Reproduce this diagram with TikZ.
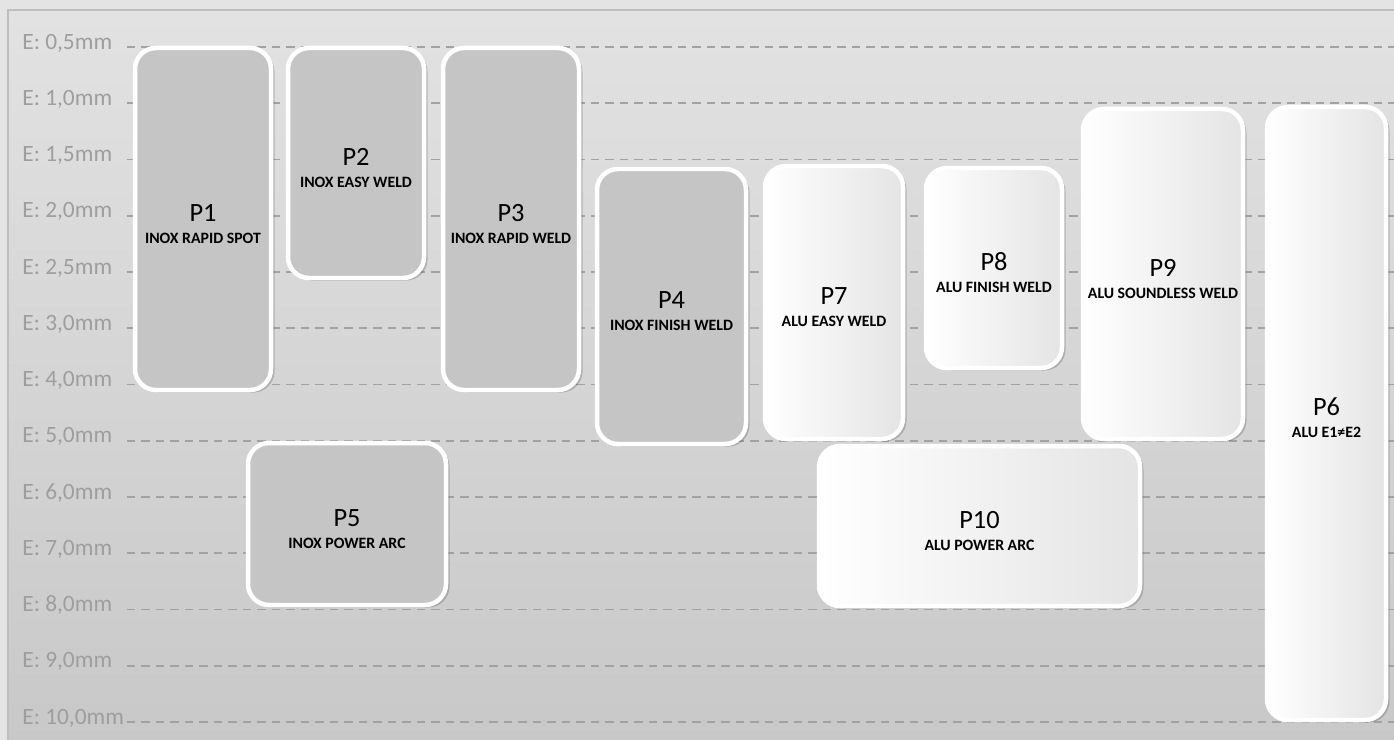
\documentclass[tikz,border=0pt]{standalone}
\usepackage{fontspec}
\setmainfont{Carlito}
\usetikzlibrary{shadows}

\definecolor{pagegrey}{HTML}{E4E4E4}
\definecolor{toptone}{HTML}{E2E2E2}
\definecolor{bottomtone}{HTML}{C8C8C8}
\definecolor{framegrey}{HTML}{BEBEBE}
\definecolor{dashgrey}{HTML}{A2A2A2}
\definecolor{labelgrey}{HTML}{9E9E9E}
\definecolor{inoxgrey}{HTML}{C5C5C5}
\definecolor{aluedge}{HTML}{E4E4E4}

\newcommand{\plabel}[2]{{\fontsize{15}{17}\selectfont\rule{0pt}{15pt}#1}\\[0.5pt]{\fontsize{9}{10}\selectfont\bfseries #2}}

\begin{document}
\begin{tikzpicture}[x=0.02cm, y=-0.02cm,
    pbox/.style={draw=white, line width=0.09cm, rounded corners=0.42cm,
      align=center, inner sep=0pt, text=black,
      drop shadow={shadow xshift=0.07cm, shadow yshift=-0.05cm, opacity=0.28, fill=black!70}},
    inox/.style={pbox, fill=inoxgrey},
    alu/.style={pbox, left color=white, middle color=white, right color=aluedge},
    level/.style={text=labelgrey, anchor=west, inner sep=0pt,
      font=\fontsize{13.3}{15}\selectfont},
    gridline/.style={dashgrey, line width=0.035cm, dash pattern=on 0.17cm off 0.12cm}]
  \def\px{0.02cm}

  % background and frame
  \useasboundingbox (0,0) rectangle (1394,740);
  \fill[pagegrey] (0,0) rectangle (1394,740);
  \shade[top color=toptone, bottom color=bottomtone, draw=framegrey, line width=0.03cm]
    (8,10) rectangle (1400,745);

  % thickness levels
  \foreach \lab [count=\i from 0] in {{0,5},{1,0},{1,5},{2,0},{2,5},{3,0},{4,0},{5,0},{6,0},{7,0},{8,0},{9,0},{10,0}} {
    \node[level] (l\i) at (22,43+\i*56.25) {E: \lab mm};
    \draw[gridline] (127,47+\i*56.25) -- (1394,47+\i*56.25);
  }

  % inox programs
  \node[inox, minimum width=136*\px, minimum height=342*\px] (p1) at (203,219) {\plabel{P1}{INOX RAPID SPOT}};
  \node[inox, minimum width=136*\px, minimum height=230*\px] (p2) at (356,163) {\plabel{P2}{INOX EASY WELD}};
  \node[inox, minimum width=136*\px, minimum height=342*\px] (p3) at (511,219) {\plabel{P3}{INOX RAPID WELD}};
  \node[inox, minimum width=149*\px, minimum height=275*\px] (p4) at (671.5,306.5) {\plabel{P4}{INOX FINISH WELD}};
  \node[inox, minimum width=198*\px, minimum height=162*\px] (p5) at (347,524) {\plabel{P5}{INOX POWER ARC}};

  % alu programs
  \node[alu, minimum width=138*\px, minimum height=273*\px] (p7) at (834,302.5) {\plabel{P7}{ALU EASY WELD}};
  \node[alu, minimum width=136*\px, minimum height=200*\px] (p8) at (994,268) {\plabel{P8}{ALU FINISH WELD}};
  \node[alu, minimum width=160*\px, minimum height=330*\px] (p9) at (1163,274) {\plabel{P9}{ALU SOUNDLESS WELD}};
  \node[alu, minimum width=119*\px, minimum height=613*\px] (p6) at (1326.5,413.5) {\plabel{P6}{ALU E1≠E2}};
  \node[alu, minimum width=321*\px, minimum height=160*\px] (p10) at (979.5,526) {\plabel{P10}{ALU POWER ARC}};
\end{tikzpicture}
\end{document}
